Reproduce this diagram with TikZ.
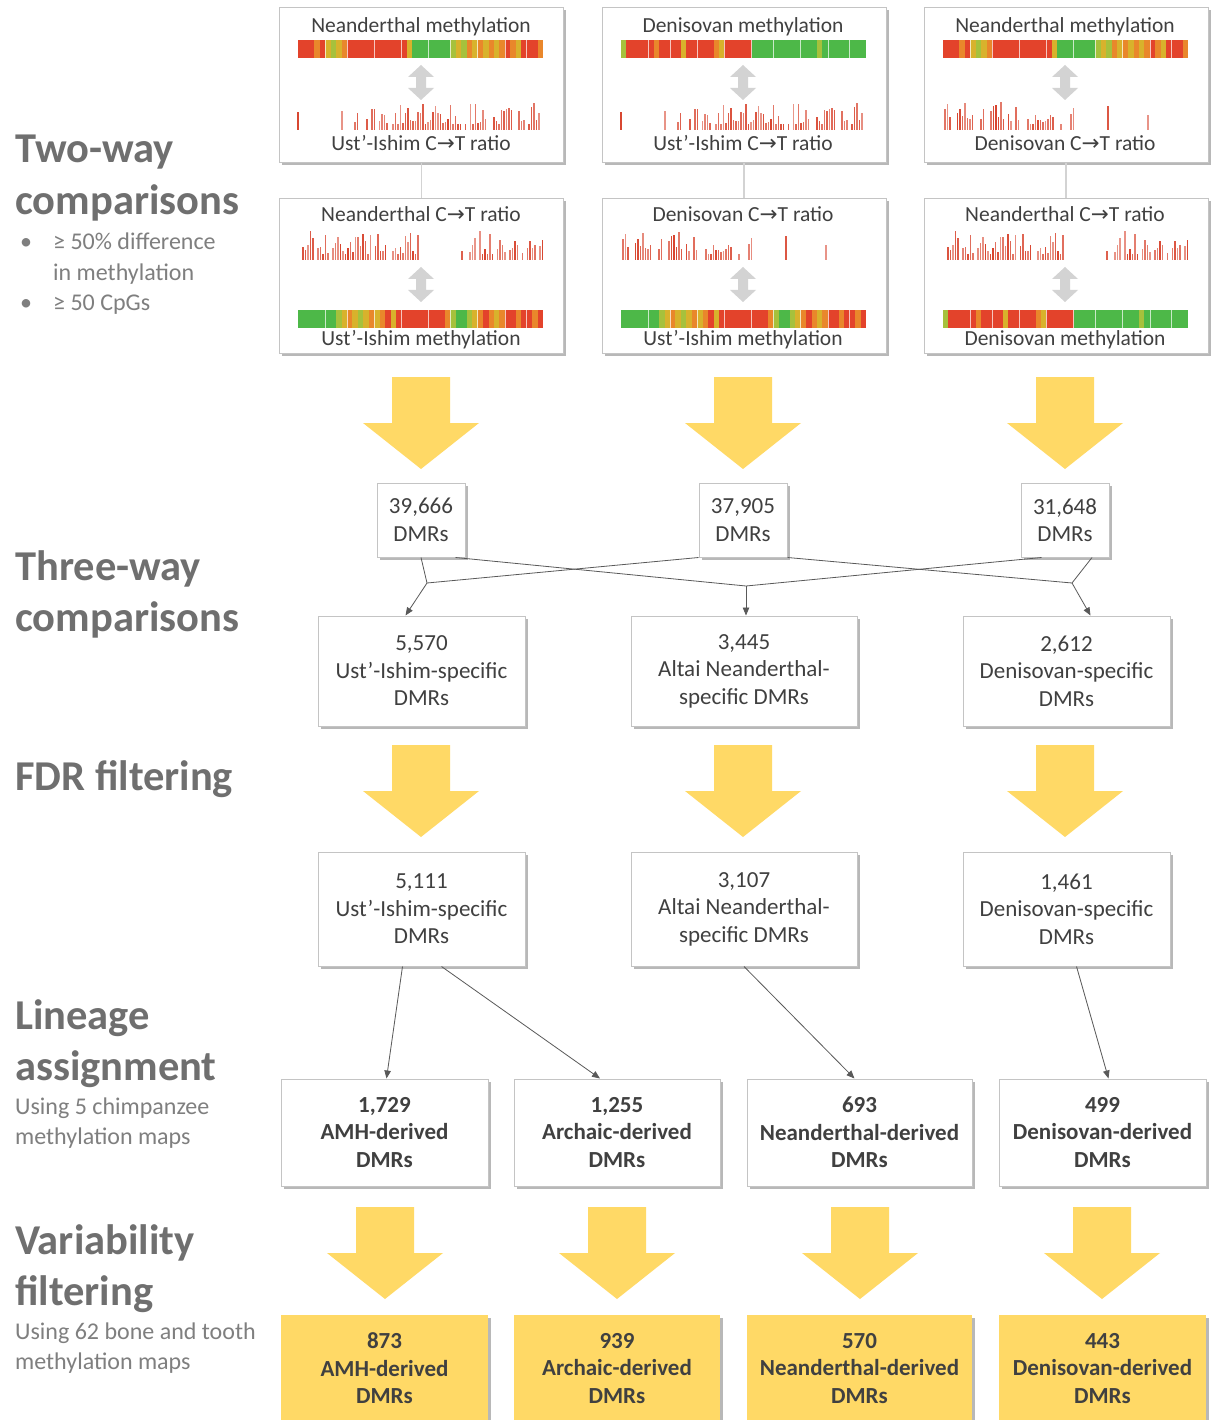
\documentclass[tikz,border=0pt]{standalone}
\usepackage{fontspec}
\setmainfont{Carlito}
\newfontfamily\symf{DejaVu Sans}
\usetikzlibrary{shadows,arrows.meta,calc}
\definecolor{boxtxt}{HTML}{404040}
\definecolor{boxline}{HTML}{C4C4C4}
\definecolor{titlegray}{HTML}{6F6F6F}
\definecolor{subgray}{HTML}{7F7F7F}
\definecolor{gold}{HTML}{FFD966}
\definecolor{conn}{HTML}{595959}
\definecolor{dbl}{HTML}{D3D3D3}
\definecolor{ctred}{HTML}{D8432D}
\definecolor{hR}{HTML}{E3432B}
\definecolor{hO}{HTML}{E9872B}
\definecolor{hY}{HTML}{D8B22C}
\definecolor{hL}{HTML}{A6C13C}
\definecolor{hG}{HTML}{4DB848}
\tikzset{
  shad/.style={drop shadow={shadow xshift=2.5pt,shadow yshift=-2.5pt,fill=black,opacity=0.28}},
  panel/.style={draw=boxline,line width=1pt,fill=white,shad,inner sep=0pt,minimum width=284pt,minimum height=155pt},
  ptext/.style={text=boxtxt,font=\fontsize{21.5}{25}\selectfont,inner sep=0pt},
  wbox/.style={draw=boxline,line width=1pt,fill=white,shad,text=boxtxt,align=center,
     font=\fontsize{23}{27.5}\selectfont,inner sep=0pt},
  bbox/.style={wbox,font=\fontsize{23}{27.5}\selectfont\bfseries,minimum height=107pt},
  ybox/.style={bbox,fill=gold,draw=none},
  ttl/.style={anchor=base west,inner sep=0pt,text=titlegray,font=\fontsize{42.5}{50}\selectfont\bfseries},
  sub/.style={anchor=base west,inner sep=0pt,text=subgray,font=\fontsize{24}{28}\selectfont},
  conn/.style={draw=conn,line width=0.8pt},
  carrow/.style={conn,-{Triangle[length=8pt,width=6.5pt]}},
  vconn/.style={draw=dbl,line width=1.2pt},
  ctbar/.style={draw=ctred,line width=1.1pt},
}
% heat bar: x0, ytop, list macro
\newcommand\heatbar[3]{%
  \foreach \c [count=\i from 0] in #3 {\fill[h\c] ({#1+\i*5.444},#2) rectangle ++(5.5,18);}
  \foreach \j in {5,9,14,19,24,28,33,38,42} {\draw[white,line width=0.6pt,opacity=0.7] ({#1+\j*5.444},#2) -- ++(0,18);}
}
% C->T bars: x0, baseline, seed, ranges macro
\newcommand\ctbars[4]{%
  \pgfmathsetseed{#3}%
  \foreach \a/\b in #4 {%
    \pgfmathtruncatemacro\nn{(\b-\a)/2.5}%
    \foreach \k in {0,...,\nn} {%
      \pgfmathsetmacro\hh{6+23*rnd^1.5}%
      \pgfmathsetmacro\op{0.55+0.45*rnd}%
      \pgfmathsetmacro\sk{\nn==0 ? 0 : rnd}%
      \ifdim\sk pt<0.85pt \draw[ctbar,opacity=\op] ({#1+\a+2.5*\k},#2) -- ++(0,-\hh);\fi
    }}}
% grey double arrow: cx, ytop, ybot
\newcommand\dblarrow[3]{%
  \fill[dbl] (#1,#2) -- ({#1+13},{#2+12}) -- ({#1+5},{#2+12}) -- ({#1+5},{#3-12}) -- ({#1+13},{#3-12})
   -- (#1,#3) -- ({#1-13},{#3-12}) -- ({#1-5},{#3-12}) -- ({#1-5},{#2+12}) -- ({#1-13},{#2+12}) -- cycle;}
% yellow block arrow: cx, ytop
\newcommand\yarrow[2]{%
  \fill[gold] ({#1-29},#2) -- ({#1+29},#2) -- ({#1+29},{#2+46}) -- ({#1+58},{#2+46}) -- (#1,{#2+92})
   -- ({#1-58},{#2+46}) -- ({#1-29},{#2+46}) -- cycle;}
\def\neamet{R,R,R,O,R,Y,L,Y,O,R,R,R,R,R,R,R,R,R,R,R,Y,G,G,G,G,G,G,G,L,Y,L,O,Y,O,Y,O,Y,O,R,O,Y,R,R,R,O}
\def\denmet{L,R,R,R,R,R,O,R,R,R,R,Y,R,R,R,R,R,O,Y,R,R,R,R,R,G,G,G,G,G,G,G,G,G,G,G,G,L,G,G,G,G,G,G,G,G}
\def\ustmet{G,G,G,G,G,G,G,L,Y,O,Y,L,Y,O,Y,O,R,Y,R,R,R,R,R,R,R,R,R,O,L,G,G,L,Y,O,R,O,Y,O,R,R,O,R,R,O,R}
\def\ustct{0/0,44/44,57/60,69/90,95/188,196/245}
\def\neact{0/124,164/164,172/245}
\def\denct{2/30,38/41,48/76,85/110,118/122,128/131,165/165,205/205}
\begin{document}
\begin{tikzpicture}[x=1pt,y=-1pt]
\useasboundingbox (0,0) rectangle (1215,1420);
\fill[white] (0,0) rectangle (1215,1420);

% ---------- left headings ----------
\node[ttl] (h1a) at (15,163) {Two-way};
\node[ttl] (h1b) at (15,215) {comparisons};
\node[sub] (b1) at (20,250) {•};
\node[sub] (s1a) at (53,250) {≥ 50\% difference};
\node[sub] (s1b) at (53,280) {in methylation};
\node[sub] (b2) at (20,310) {•};
\node[sub] (s1c) at (53,310) {≥ 50 CpGs};
\node[ttl] (h2a) at (15,580) {Three-way};
\node[ttl] (h2b) at (15,631) {comparisons};
\node[ttl] (h3) at (15,790) {FDR filtering};
\node[ttl] (h4a) at (15,1029) {Lineage};
\node[ttl] (h4b) at (15,1080) {assignment};
\node[sub] (s4a) at (15,1114) {Using 5 chimpanzee};
\node[sub] (s4b) at (15,1144) {methylation maps};
\node[ttl] (h5a) at (15,1254) {Variability};
\node[ttl] (h5b) at (15,1305) {filtering};
\node[sub] (s5a) at (15,1339) {Using 62 bone and tooth};
\node[sub] (s5b) at (15,1369) {methylation maps};

% ---------- two-way panels ----------
\node[panel] (pA1) at (421.5,85.5) {};
\node[panel] (pB1) at (421.5,276) {};
\node[panel] (pA2) at (744,85.5) {};
\node[panel] (pB2) at (744,276) {};
\node[panel] (pA3) at (1066,85.5) {};
\node[panel] (pB3) at (1066,276) {};
\draw[vconn] (pA1.south) -- (pB1.north);
\draw[vconn] (pA2.south) -- (pB2.north);
\draw[vconn] (pA3.south) -- (pB3.north);

\node[ptext] (tA1) at (421,27) {Neanderthal methylation};
\node[ptext] (lA1) at (421,143) {Ust’-Ishim C{\symf →}T ratio};
\node[ptext] (tB1) at (421,214) {Neanderthal C{\symf →}T ratio};
\node[ptext] (lB1) at (421,340) {Ust’-Ishim methylation};
\node[ptext] (tA2) at (743,27) {Denisovan methylation};
\node[ptext] (lA2) at (743,143) {Ust’-Ishim C{\symf →}T ratio};
\node[ptext] (tB2) at (743,214) {Denisovan C{\symf →}T ratio};
\node[ptext] (lB2) at (743,340) {Ust’-Ishim methylation};
\node[ptext] (tA3) at (1065,27) {Neanderthal methylation};
\node[ptext] (lA3) at (1065,143) {Denisovan C{\symf →}T ratio};
\node[ptext] (tB3) at (1065,214) {Neanderthal C{\symf →}T ratio};
\node[ptext] (lB3) at (1065,340) {Denisovan methylation};

\heatbar{298}{40}{\neamet}
\heatbar{298}{310}{\ustmet}
\heatbar{621}{40}{\denmet}
\heatbar{621}{310}{\ustmet}
\heatbar{943}{40}{\neamet}
\heatbar{943}{310}{\denmet}

\ctbars{298}{130}{11}{\ustct}
\ctbars{298}{260}{23}{\neact}
\ctbars{621}{130}{11}{\ustct}
\ctbars{621}{260}{37}{\denct}
\ctbars{943}{130}{37}{\denct}
\ctbars{943}{260}{23}{\neact}

\dblarrow{421}{65}{100}
\dblarrow{421}{267}{302}
\dblarrow{743}{65}{100}
\dblarrow{743}{267}{302}
\dblarrow{1065}{65}{100}
\dblarrow{1065}{267}{302}

% ---------- yellow arrows ----------
\yarrow{421}{377}
\yarrow{743}{377}
\yarrow{1065}{377}
\yarrow{421}{745}
\yarrow{743}{745}
\yarrow{1065}{745}
\yarrow{385}{1207}
\yarrow{617}{1207}
\yarrow{860}{1207}
\yarrow{1102}{1207}

% ---------- DMR boxes ----------
\node[wbox,minimum width=88pt,minimum height=74pt] (dmr1) at (421,520) {39,666\\DMRs};
\node[wbox,minimum width=88pt,minimum height=74pt] (dmr2) at (743,520) {37,905\\DMRs};
\node[wbox,minimum width=88pt,minimum height=74pt] (dmr3) at (1065,520) {31,648\\DMRs};

\node[wbox,minimum width=207pt,minimum height=110pt] (tw1) at (421.5,671) {5,570\\Ust’-Ishim-specific\\DMRs};
\node[wbox,minimum width=226pt,minimum height=110pt] (tw2) at (744,671) {3,445\\Altai Neanderthal-\\specific DMRs};
\node[wbox,minimum width=207pt,minimum height=110pt] (tw3) at (1066.5,671) {2,612\\Denisovan-specific\\DMRs};

\node[wbox,minimum width=207pt,minimum height=114pt] (fdr1) at (421.5,909) {5,111\\Ust’-Ishim-specific\\DMRs};
\node[wbox,minimum width=226pt,minimum height=114pt] (fdr2) at (744,909) {3,107\\Altai Neanderthal-\\specific DMRs};
\node[wbox,minimum width=207pt,minimum height=114pt] (fdr3) at (1066.5,909) {1,461\\Denisovan-specific\\DMRs};

\node[bbox,minimum width=207pt] (lin1) at (384.5,1132.5) {1,729\\AMH-derived\\DMRs};
\node[bbox,minimum width=206pt] (lin2) at (617,1132.5) {1,255\\Archaic-derived\\DMRs};
\node[bbox,minimum width=225pt] (lin3) at (859.5,1132.5) {693\\Neanderthal-derived\\DMRs};
\node[bbox,minimum width=207pt] (lin4) at (1102.5,1132.5) {499\\Denisovan-derived\\DMRs};

\node[ybox,minimum width=207pt] (fin1) at (384.5,1368.5) {873\\AMH-derived\\DMRs};
\node[ybox,minimum width=206pt] (fin2) at (617,1368.5) {939\\Archaic-derived\\DMRs};
\node[ybox,minimum width=225pt] (fin3) at (859.5,1368.5) {570\\Neanderthal-derived\\DMRs};
\node[ybox,minimum width=207pt] (fin4) at (1102.5,1368.5) {443\\Denisovan-derived\\DMRs};

% ---------- three-way connectors ----------
\coordinate (J1) at (427,583);
\coordinate (J2) at (746,586);
\coordinate (J3) at (1072,583);
\draw[conn] (dmr1.south) -- (J1);
\draw[conn] (dmr2.south west) -- (J1);
\draw[carrow] (J1) -- ($(tw1.north)+(-16,0)$);
\draw[conn] ([xshift=-10pt]dmr1.south east) -- (J2);
\draw[conn] ([xshift=21pt]dmr3.south west) -- (J2);
\draw[carrow] (J2) -- ($(tw2.north)+(2,0)$);
\draw[conn] (dmr2.south east) -- (J3);
\draw[conn] ([xshift=27pt]dmr3.south) -- (J3);
\draw[carrow] (J3) -- ($(tw3.north)+(24,0)$);

% ---------- lineage connectors ----------
\draw[carrow] ($(fdr1.south)+(-19,0)$) -- ($(lin1.north)+(2,0)$);
\draw[carrow] ($(fdr1.south)+(20,0)$) -- ($(lin2.north)+(-17,0)$);
\draw[carrow] (fdr2.south) -- ($(lin3.north)+(-5,0)$);
\draw[carrow] ($(fdr3.south)+(10,0)$) -- ($(lin4.north)+(6,0)$);
\end{tikzpicture}
\end{document}
